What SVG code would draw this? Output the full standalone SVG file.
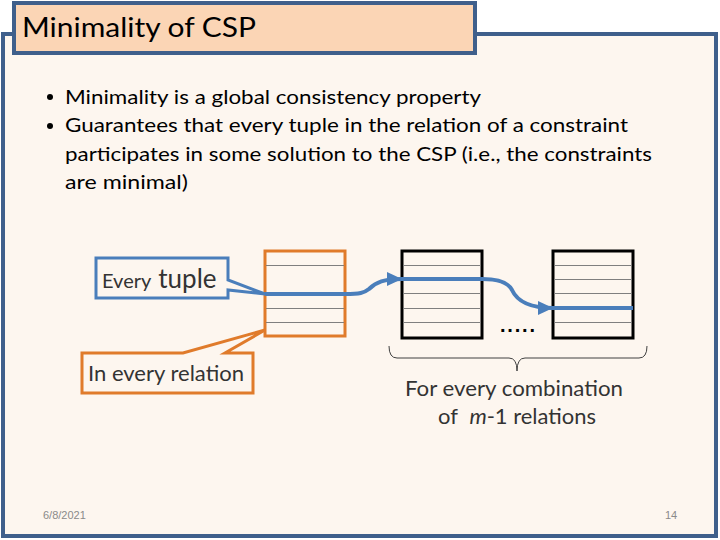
<svg xmlns="http://www.w3.org/2000/svg" width="720" height="540" viewBox="0 0 720 540">
<defs>
<style>
.t{font-family:Lato,"Liberation Sans",sans-serif;fill:#000}
.d{font-family:Lato,"Liberation Sans",sans-serif;fill:#333}
.grid{stroke:#7f7f7f;stroke-width:1}
.blk{fill:#fdf6ef;stroke:#000;stroke-width:3}
.flow{fill:none;stroke:#4a7ebb;stroke-width:4}
.foot{font-family:"Liberation Sans",sans-serif;font-size:11px;fill:#8a8a8a}
</style>
<marker id="ah" markerUnits="userSpaceOnUse" markerWidth="16" markerHeight="16" viewBox="0 0 16 16" refX="15" refY="8" orient="auto">
<path d="M0,1 L15,8 L0,15 Z" fill="#4a7ebb"/>
</marker>
</defs>
<rect x="0" y="0" width="720" height="540" fill="#ffffff"/>
<g id="frame">
<rect x="3" y="34" width="713" height="502" fill="#fdf6ef" stroke="#3f5f8b" stroke-width="4"/>
</g>
<g id="title">
<rect x="14" y="3" width="461" height="50" fill="#fbd5b5" stroke="#3f5f8b" stroke-width="4"/>
<text class="t" x="22" y="37" font-size="26" textLength="234" lengthAdjust="spacingAndGlyphs">Minimality of CSP</text>
</g>
<g id="bullets">
<circle cx="50" cy="97" r="3" fill="#000"/>
<circle cx="50" cy="126" r="3" fill="#000"/>
<text class="t" x="65" y="104" font-size="20" textLength="416" lengthAdjust="spacingAndGlyphs">Minimality is a global consistency property</text>
<text class="t" x="65" y="132" font-size="20" textLength="563" lengthAdjust="spacingAndGlyphs">Guarantees that every tuple in the relation of a constraint</text>
<text class="t" x="65" y="161" font-size="20" textLength="587" lengthAdjust="spacingAndGlyphs">participates in some solution to the CSP (i.e., the constraints</text>
<text class="t" x="65" y="189" font-size="20" textLength="123" lengthAdjust="spacingAndGlyphs">are minimal)</text>
</g>
<g id="rel-orange">
<rect x="265" y="251" width="80" height="85" fill="#fdf6ef" stroke="#e07b2b" stroke-width="3"/>
<line class="grid" x1="266" y1="265.5" x2="344" y2="265.5"/>
<line class="grid" x1="266" y1="308.5" x2="344" y2="308.5"/>
<line class="grid" x1="266" y1="322.5" x2="344" y2="322.5"/>
</g>
<g id="rel-1">
<rect class="blk" x="402" y="251" width="80" height="87"/>
<line class="grid" x1="403" y1="265.5" x2="481" y2="265.5"/>
<line class="grid" x1="403" y1="293.5" x2="481" y2="293.5"/>
<line class="grid" x1="403" y1="308.5" x2="481" y2="308.5"/>
<line class="grid" x1="403" y1="322.5" x2="481" y2="322.5"/>
</g>
<g id="rel-m">
<rect class="blk" x="553" y="251" width="80" height="87"/>
<line class="grid" x1="554" y1="265.5" x2="632" y2="265.5"/>
<line class="grid" x1="554" y1="279.5" x2="632" y2="279.5"/>
<line class="grid" x1="554" y1="293.5" x2="632" y2="293.5"/>
<line class="grid" x1="554" y1="322.5" x2="632" y2="322.5"/>
</g>
<g id="dots">
<text x="500" y="332" font-family="Liberation Sans,sans-serif" font-size="20" font-weight="bold" letter-spacing="1.8" fill="#000">.....</text>
</g>
<g id="connectors">
<path class="flow" d="M265,294 H345 C360,294 364,293 369,289 C376,282 384,279 402,279" marker-end="url(#ah)"/>
<path class="flow" d="M402,279 H482 C498,279 508,282 512,290 C517,301 528,308 553,308" marker-end="url(#ah)"/>
<path class="flow" d="M553,308 H633"/>
</g>
<g id="callout-tuple">
<path d="M96,258 H228 V280 L265,294 L228,290 V298 H96 Z" fill="#fdf6ef" stroke="#4a7ebb" stroke-width="3" stroke-linejoin="miter"/>
<text class="d" x="102" y="288"><tspan font-size="20">Every</tspan><tspan font-size="26" dx="7">tuple</tspan></text>
</g>
<g id="callout-relation">
<path d="M82,353 H183 L265,330 L225,353 H253 V393 H82 Z" fill="#fdf6ef" stroke="#e07b2b" stroke-width="3"/>
<text class="d" x="88" y="381" font-size="21" textLength="156" lengthAdjust="spacingAndGlyphs">In every relation</text>
</g>
<g id="brace">
<path d="M389,346 Q389,358 397,358 H509 Q517,358 517,371 Q517,358 525,358 H639 Q647,358 647,346" fill="none" stroke="#404040" stroke-width="1"/>
<text class="d" x="405" y="396" font-size="21" textLength="218" lengthAdjust="spacingAndGlyphs">For every combination</text>
<text class="d" x="438" y="424" font-size="21" textLength="158" lengthAdjust="spacingAndGlyphs">of <tspan dx="6" font-style="italic">m</tspan>-1 relations</text>
</g>
<g id="footer">
<text class="foot" x="43" y="519">6/8/2021</text>
<text class="foot" x="665" y="519">14</text>
</g>
</svg>
